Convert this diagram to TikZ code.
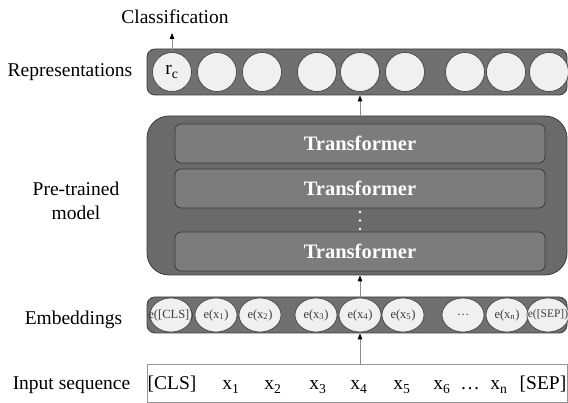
\documentclass[tikz,border=0pt]{standalone}
\usepackage{fontspec}
\setmainfont{Liberation Serif}
\usetikzlibrary{shapes.geometric,arrows.meta}

\definecolor{barfill}{RGB}{112,112,112}
\definecolor{boxfill}{RGB}{106,106,106}
\definecolor{tffill}{RGB}{124,124,124}
\definecolor{edgecol}{RGB}{58,58,58}
\definecolor{circfill}{RGB}{240,240,240}
\definecolor{circline}{RGB}{70,70,70}
\definecolor{arrline}{RGB}{140,140,140}
\definecolor{inline}{RGB}{150,150,150}
\definecolor{smalltext}{RGB}{60,60,60}

% centred text that does not widen its node
\newcommand{\fixw}[1]{\makebox[0pt][c]{#1}}

\tikzset{
  lab/.style={font=\fontsize{19.5}{24}\selectfont, align=center, inner sep=0pt},
  tok/.style={font=\fontsize{19.5}{24}\selectfont, anchor=base, inner sep=0pt},
  bar/.style={draw=edgecol, fill=barfill, rounded corners=8pt, line width=0.8pt,
              minimum width=420pt, inner sep=0pt},
  modelbox/.style={draw=edgecol, fill=boxfill, rounded corners=22pt, line width=0.8pt,
              minimum width=420pt, minimum height=159pt, inner sep=0pt},
  tfbox/.style={draw=edgecol, fill=tffill, rounded corners=6pt, line width=0.8pt,
              minimum width=370pt, minimum height=39pt, inner sep=0pt,
              text=white, font=\bfseries\fontsize{20.5}{24}\selectfont},
  repcirc/.style={circle, draw=circline, fill=circfill, line width=0.7pt,
              minimum size=39pt, inner sep=0pt, font=\fontsize{19.5}{24}\selectfont},
  embcirc/.style={ellipse, draw=circline, fill=circfill, line width=0.7pt,
              minimum width=42pt, minimum height=34pt, inner sep=0pt,
              text=smalltext, font=\fontsize{12.5}{14}\selectfont},
  arr/.style={draw=arrline, line width=0.8pt,
              -{Triangle[length=6pt,width=4.5pt,color=black]}},
}

\begin{document}
\begin{tikzpicture}[x=1pt,y=-1pt]
  \useasboundingbox (0,0) rectangle (568,403);

  % left-hand labels
  \node[lab] (lrep) at (70,72) {Representations};
  \node[lab] (lmod) at (76,201) {Pre-trained\\model};
  \node[lab] (lemb) at (73.5,320) {Embeddings};
  \node[lab, anchor=base] (linp) at (71.5,390) {Input sequence};

  % output representations
  \node[bar, minimum height=46pt] (rep) at (357,72) {};
  \node[repcirc] (r1) at (172,72) {r\textsubscript{c}};
  \node[repcirc] (r2) at (217,72) {};
  \node[repcirc] (r3) at (262,72) {};
  \node[repcirc] (r4) at (317,72) {};
  \node[repcirc] (r5) at (360,72) {};
  \node[repcirc] (r6) at (405,72) {};
  \node[repcirc] (r7) at (465,72) {};
  \node[repcirc] (r8) at (506,72) {};
  \node[repcirc] (r9) at (549,72) {};

  \node[lab] (cls) at (175,17) {Classification};
  \coordinate (clstip) at (172,33);
  \draw[arr] (r1.north) -- (clstip);

  % pre-trained model with its stack of transformer layers
  \node[modelbox] (model) at (357,195.5) {};
  \node[tfbox] (t1) at (360,143.5) {Transformer};
  \node[tfbox] (t2) at (360,188.5) {Transformer};
  \node[tfbox] (t3) at (360,251.5) {Transformer};
  \foreach \yy in {212,220.5,229}
    \fill[white] (360,\yy) circle (1.3pt);

  % embeddings
  \node[bar, minimum height=36pt] (emb) at (357,315) {};
  \node[embcirc] (e0) at (171,315) {\fixw{e([CLS])}};
  \node[embcirc] (e1) at (216,315) {\fixw{e(x\textsubscript{1})}};
  \node[embcirc] (e2) at (260,315) {\fixw{e(x\textsubscript{2})}};
  \node[embcirc] (e3) at (316,315) {\fixw{e(x\textsubscript{3})}};
  \node[embcirc] (e4) at (360,315) {\fixw{e(x\textsubscript{4})}};
  \node[embcirc] (e5) at (403,315) {\fixw{e(x\textsubscript{5})}};
  \node[embcirc] (e6) at (463,315) {\fixw{\dots}};
  \node[embcirc] (e7) at (507,315) {\fixw{e(x\textsubscript{n})}};
  \node[embcirc] (e8) at (548,315) {\fixw{\fontsize{11.5}{13}\selectfont e([SEP])}};

  % input tokens
  \node[draw=inline, line width=0.8pt, minimum width=420pt, minimum height=38pt,
        inner sep=0pt] (inp) at (357,383) {};
  \node[tok] (w0) at (172,390) {[CLS]};
  \node[tok] (w1) at (231,390) {x\textsubscript{1}};
  \node[tok] (w2) at (273,390) {x\textsubscript{2}};
  \node[tok] (w3) at (318,390) {x\textsubscript{3}};
  \node[tok] (w4) at (359,390) {x\textsubscript{4}};
  \node[tok] (w5) at (402,390) {x\textsubscript{5}};
  \node[tok] (w6) at (442,390) {x\textsubscript{6}};
  \node[tok] (wd) at (470,390) {\dots};
  \node[tok] (wn) at (499,390) {x\textsubscript{n}};
  \node[tok] (w9) at (543,390) {[SEP]};

  % data flow
  \draw[arr] (inp.north -| e4) -- (emb.south -| e4);
  \draw[arr] (emb.north -| e4) -- (model.south -| e4);
  \draw[arr] (model.north -| e4) -- (rep.south -| e4);
\end{tikzpicture}
\end{document}
